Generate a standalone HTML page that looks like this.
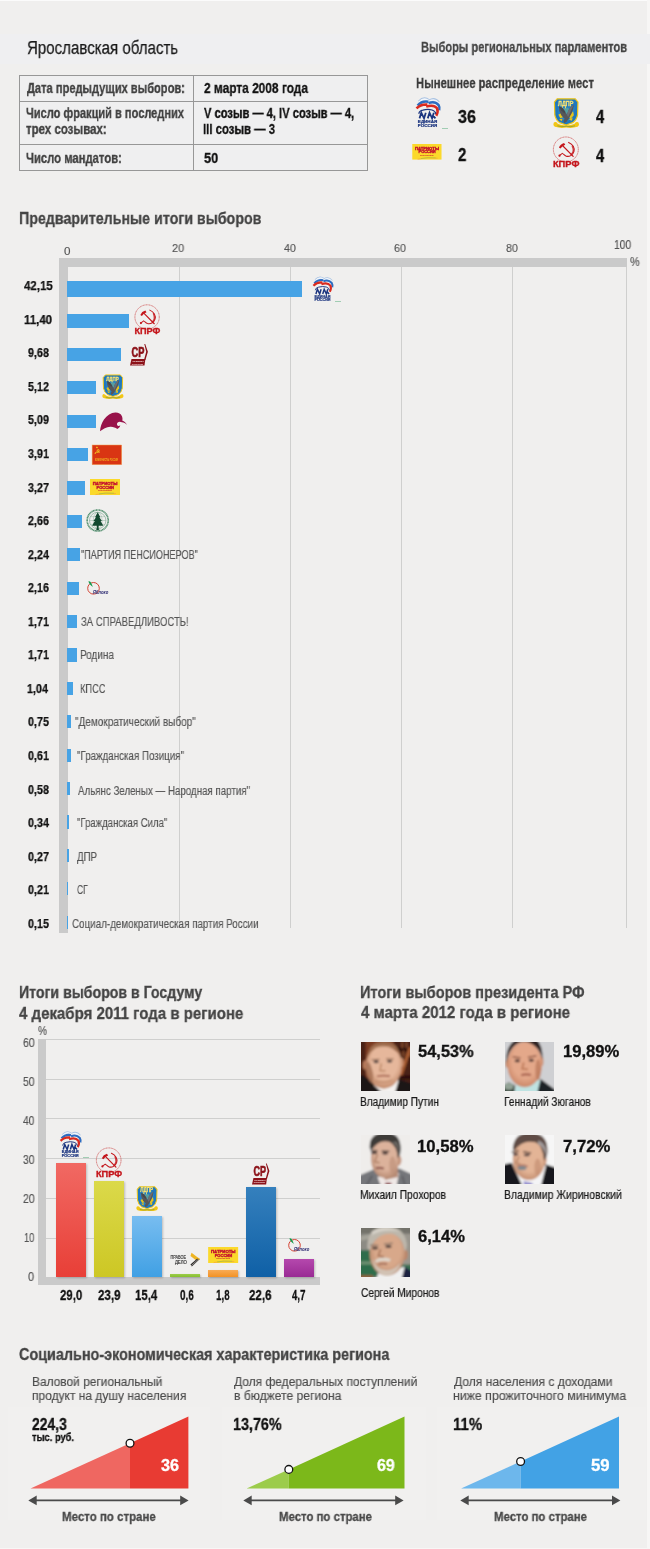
<!DOCTYPE html>
<html lang="ru"><head><meta charset="utf-8"><title>Ярославская область — выборы</title>
<style>
html,body{margin:0;padding:0}
body{width:650px;height:1549px;background:#f0efee;overflow:hidden;font-family:"Liberation Sans",sans-serif}
#pg{position:relative;width:650px;height:1549px;overflow:hidden;background:#f0efee}
.t{position:absolute;white-space:nowrap;line-height:1;transform-origin:0 0;font-weight:400;-webkit-text-stroke:.15px currentColor}
.t.b{font-weight:700;-webkit-text-stroke:.3px currentColor}
.ab{position:absolute;overflow:visible}
svg.ab,.t{will-change:transform}
svg text{font-family:"Liberation Sans",sans-serif}
.band{position:absolute;background:#efeff1}
.tb{position:absolute;border-collapse:collapse;table-layout:fixed;background:#efeff0}
.tb td{border:1px solid #979797;padding:0}
.gl{position:absolute;width:1px;background:#cfcfce}
.glh{position:absolute;height:1px;background:#cfcfce}
.fr{position:absolute;background:#cacaca}
.hb{position:absolute;background:#47a3e5}
.vb{position:absolute;box-shadow:1px 1px 2px rgba(0,0,0,.22)}
.pan{position:absolute;background:rgba(255,255,255,.1)}
.topl{position:absolute;left:0;top:0;width:650px;height:1px;background:#fbfbfb}
</style></head>
<body><div id="pg">
<div class="topl"></div><div class="ab" style="left:647px;top:0;width:3px;height:1549px;background:#f7f6f5"></div><div class="ab" style="left:0;top:1547.5px;width:650px;height:1.5px;background:#f7f6f5"></div>
<div class="band" style="left:0;top:34px;width:650px;height:30px"></div>
<div class="t" style="left:26.82px;top:37px;font-size:18.46px;line-height:21px;color:#1a1a1a;transform:scaleX(0.8171);-webkit-text-stroke:.25px #1a1a1a">Ярославская область</div>
<div class="t b" style="left:420.78px;top:39px;font-size:14.24px;line-height:16px;color:#454545;transform:scaleX(0.7783);">Выборы региональных парламентов</div>
<div class="t b" style="left:415.77px;top:74px;font-size:15.12px;line-height:17px;color:#3a3a3a;transform:scaleX(0.7448);">Нынешнее распределение мест</div>
<table class="tb" style="left:19px;top:75px;width:349px"><tr style="height:26px"><td style="width:173px"></td><td></td></tr><tr style="height:43px"><td></td><td></td></tr><tr style="height:26px"><td></td><td></td></tr></table>
<div class="t b" style="left:26.52px;top:80px;font-size:14.83px;line-height:16px;color:#404040;transform:scaleX(0.7492);">Дата предыдущих выборов:</div>
<div class="t b" style="left:26.02px;top:105px;font-size:14.83px;line-height:16px;color:#404040;transform:scaleX(0.7459);">Число фракций в последних</div>
<div class="t b" style="left:26.28px;top:121px;font-size:14.83px;line-height:16px;color:#404040;transform:scaleX(0.7741);">трех созывах:</div>
<div class="t b" style="left:26.01px;top:150px;font-size:14.83px;line-height:16px;color:#404040;transform:scaleX(0.7607);">Число мандатов:</div>
<div class="t b" style="left:203.61px;top:80px;font-size:14.83px;line-height:16px;color:#111;transform:scaleX(0.8031);">2 марта 2008 года</div>
<div class="t b" style="left:203.94px;top:105px;font-size:14.83px;line-height:16px;color:#111;transform:scaleX(0.7521);">V созыв — 4, IV созыв — 4,</div>
<div class="t b" style="left:203.26px;top:121px;font-size:14.83px;line-height:16px;color:#111;transform:scaleX(0.7666);">III созыв — 3</div>
<div class="t b" style="left:204.02px;top:150px;font-size:14.83px;line-height:16px;color:#111;transform:scaleX(0.8603);">50</div>
<div class="t b" style="left:457.64px;top:107px;font-size:17.88px;line-height:20px;color:#111;transform:scaleX(0.9012);">36</div>
<div class="t b" style="left:457.81px;top:145px;font-size:17.88px;line-height:20px;color:#111;transform:scaleX(0.8418);">2</div>
<div class="t b" style="left:595.78px;top:107px;font-size:17.88px;line-height:20px;color:#111;transform:scaleX(0.8324);">4</div>
<div class="t b" style="left:595.78px;top:146px;font-size:17.88px;line-height:20px;color:#111;transform:scaleX(0.8324);">4</div>
<div class="t b" style="left:19.07px;top:208px;font-size:17.3px;line-height:20px;color:#444;transform:scaleX(0.8233);">Предварительные итоги выборов</div>
<div class="t b" style="left:18.78px;top:982px;font-size:17.15px;line-height:20px;color:#444;transform:scaleX(0.8243);">Итоги выборов в Госдуму</div>
<div class="t b" style="left:19.47px;top:1003px;font-size:17.15px;line-height:20px;color:#444;transform:scaleX(0.8760);">4 декабря 2011 года в регионе</div>
<div class="t b" style="left:359.85px;top:982px;font-size:17.15px;line-height:20px;color:#444;transform:scaleX(0.8485);">Итоги выборов президента РФ</div>
<div class="t b" style="left:360.57px;top:1002px;font-size:17.15px;line-height:20px;color:#444;transform:scaleX(0.8790);">4 марта 2012 года в регионе</div>
<div class="t b" style="left:19.12px;top:1345px;font-size:16.86px;line-height:19px;color:#444;transform:scaleX(0.8536);">Социально-экономическая характеристика региона</div>
<div class="gl" style="left:179px;top:267px;height:661px"></div>
<div class="gl" style="left:290px;top:267px;height:661px"></div>
<div class="gl" style="left:401px;top:267px;height:661px"></div>
<div class="gl" style="left:512px;top:267px;height:661px"></div>
<div class="gl" style="left:626px;top:267px;height:661px"></div>
<div class="fr" style="left:59px;top:258px;width:567.6px;height:9px"></div>
<div class="fr" style="left:59px;top:258px;width:8.7px;height:675px"></div>
<div class="t" style="left:64.16px;top:244px;font-size:11.63px;line-height:13px;color:#555;transform:scaleX(1.0032);">0</div>
<div class="t" style="left:172.25px;top:241px;font-size:11.63px;line-height:13px;color:#555;transform:scaleX(0.9418);">20</div>
<div class="t" style="left:283.96px;top:241px;font-size:11.63px;line-height:13px;color:#555;transform:scaleX(0.9172);">40</div>
<div class="t" style="left:394.46px;top:241px;font-size:11.63px;line-height:13px;color:#555;transform:scaleX(0.9250);">60</div>
<div class="t" style="left:505.85px;top:241px;font-size:11.63px;line-height:13px;color:#555;transform:scaleX(0.9183);">80</div>
<div class="t" style="left:614.23px;top:238px;font-size:11.92px;line-height:14px;color:#555;transform:scaleX(0.8632);">100</div>
<div class="t" style="left:629.62px;top:255px;font-size:11.92px;line-height:14px;color:#555;transform:scaleX(0.9208);">%</div>
<div class="hb" style="left:67px;top:281.0px;width:235.0px;height:16px"></div>
<div class="t b" style="left:23.88px;top:279px;font-size:12.35px;line-height:14px;color:#111;transform:scaleX(0.9304);-webkit-text-stroke:.25px #111">42,15</div>
<div class="hb" style="left:67px;top:314.4px;width:62.0px;height:13.2px"></div>
<div class="t b" style="left:24.01px;top:313px;font-size:12.35px;line-height:14px;color:#111;transform:scaleX(0.9304);-webkit-text-stroke:.25px #111">11,40</div>
<div class="hb" style="left:67px;top:347.8px;width:53.5px;height:13.2px"></div>
<div class="t b" style="left:27.72px;top:346px;font-size:12.35px;line-height:14px;color:#111;transform:scaleX(0.8703);-webkit-text-stroke:.25px #111">9,68</div>
<div class="hb" style="left:67px;top:381.2px;width:29.0px;height:13.2px"></div>
<div class="t b" style="left:27.79px;top:380px;font-size:12.35px;line-height:14px;color:#111;transform:scaleX(0.8703);-webkit-text-stroke:.25px #111">5,12</div>
<div class="hb" style="left:67px;top:414.6px;width:29.0px;height:13.2px"></div>
<div class="t b" style="left:27.77px;top:413px;font-size:12.35px;line-height:14px;color:#111;transform:scaleX(0.8703);-webkit-text-stroke:.25px #111">5,09</div>
<div class="hb" style="left:67px;top:448.0px;width:21.0px;height:13.2px"></div>
<div class="t b" style="left:27.76px;top:447px;font-size:12.35px;line-height:14px;color:#111;transform:scaleX(0.8703);-webkit-text-stroke:.25px #111">3,91</div>
<div class="hb" style="left:67px;top:481.4px;width:18.0px;height:13.2px"></div>
<div class="t b" style="left:27.85px;top:481px;font-size:12.35px;line-height:14px;color:#111;transform:scaleX(0.8703);-webkit-text-stroke:.25px #111">3,27</div>
<div class="hb" style="left:67px;top:514.8px;width:15.0px;height:13.2px"></div>
<div class="t b" style="left:27.75px;top:514px;font-size:12.35px;line-height:14px;color:#111;transform:scaleX(0.8703);-webkit-text-stroke:.25px #111">2,66</div>
<div class="hb" style="left:67px;top:548.2px;width:13.0px;height:13.2px"></div>
<div class="t b" style="left:27.59px;top:548px;font-size:12.35px;line-height:14px;color:#111;transform:scaleX(0.8703);-webkit-text-stroke:.25px #111">2,24</div>
<div class="t" style="left:81.31px;top:548px;font-size:12.21px;line-height:14px;color:#555;transform:scaleX(0.7448);">"ПАРТИЯ ПЕНСИОНЕРОВ"</div>
<div class="hb" style="left:67px;top:581.6px;width:11.7px;height:13.2px"></div>
<div class="t b" style="left:27.75px;top:581px;font-size:12.35px;line-height:14px;color:#111;transform:scaleX(0.8703);-webkit-text-stroke:.25px #111">2,16</div>
<div class="hb" style="left:67px;top:615.0px;width:10.0px;height:13.2px"></div>
<div class="t b" style="left:27.55px;top:615px;font-size:12.35px;line-height:14px;color:#111;transform:scaleX(0.8703);-webkit-text-stroke:.25px #111">1,71</div>
<div class="t" style="left:81.39px;top:615px;font-size:12.21px;line-height:14px;color:#555;transform:scaleX(0.7820);">ЗА СПРАВЕДЛИВОСТЬ!</div>
<div class="hb" style="left:67px;top:648.4px;width:10.0px;height:13.2px"></div>
<div class="t b" style="left:27.55px;top:648px;font-size:12.35px;line-height:14px;color:#111;transform:scaleX(0.8703);-webkit-text-stroke:.25px #111">1,71</div>
<div class="t" style="left:80.00px;top:648px;font-size:12.21px;line-height:14px;color:#555;transform:scaleX(0.8165);">Родина</div>
<div class="hb" style="left:67px;top:681.8px;width:6.3px;height:13.2px"></div>
<div class="t b" style="left:27.42px;top:682px;font-size:12.35px;line-height:14px;color:#111;transform:scaleX(0.8703);-webkit-text-stroke:.25px #111">1,04</div>
<div class="t" style="left:80.06px;top:682px;font-size:12.21px;line-height:14px;color:#555;transform:scaleX(0.7606);">КПСС</div>
<div class="hb" style="left:67px;top:715.2px;width:4.3px;height:13.2px"></div>
<div class="t b" style="left:27.68px;top:715px;font-size:12.35px;line-height:14px;color:#111;transform:scaleX(0.8703);-webkit-text-stroke:.25px #111">0,75</div>
<div class="t" style="left:74.77px;top:715px;font-size:12.21px;line-height:14px;color:#555;transform:scaleX(0.8195);">"Демократический выбор"</div>
<div class="hb" style="left:67px;top:748.6px;width:3.5px;height:13.2px"></div>
<div class="t b" style="left:27.68px;top:749px;font-size:12.35px;line-height:14px;color:#111;transform:scaleX(0.8703);-webkit-text-stroke:.25px #111">0,61</div>
<div class="t" style="left:77.08px;top:749px;font-size:12.21px;line-height:14px;color:#555;transform:scaleX(0.8000);">"Гражданская Позиция"</div>
<div class="hb" style="left:67px;top:782.0px;width:3.3px;height:13.2px"></div>
<div class="t b" style="left:27.69px;top:783px;font-size:12.35px;line-height:14px;color:#111;transform:scaleX(0.8703);-webkit-text-stroke:.25px #111">0,58</div>
<div class="t" style="left:77.50px;top:784px;font-size:12.21px;line-height:14px;color:#555;transform:scaleX(0.7981);">Альянс Зеленых — Народная партия"</div>
<div class="hb" style="left:67px;top:815.4px;width:2.0px;height:13.2px"></div>
<div class="t b" style="left:27.56px;top:816px;font-size:12.35px;line-height:14px;color:#111;transform:scaleX(0.8703);-webkit-text-stroke:.25px #111">0,34</div>
<div class="t" style="left:77.09px;top:816px;font-size:12.21px;line-height:14px;color:#555;transform:scaleX(0.7848);">"Гражданская Сила"</div>
<div class="hb" style="left:67px;top:848.8px;width:1.6px;height:13.2px"></div>
<div class="t b" style="left:27.77px;top:850px;font-size:12.35px;line-height:14px;color:#111;transform:scaleX(0.8703);-webkit-text-stroke:.25px #111">0,27</div>
<div class="t" style="left:77.45px;top:850px;font-size:12.21px;line-height:14px;color:#555;transform:scaleX(0.7965);">ДПР</div>
<div class="hb" style="left:67px;top:882.2px;width:1.3px;height:13.2px"></div>
<div class="t b" style="left:27.68px;top:883px;font-size:12.35px;line-height:14px;color:#111;transform:scaleX(0.8703);-webkit-text-stroke:.25px #111">0,21</div>
<div class="t" style="left:77.07px;top:883px;font-size:12.21px;line-height:14px;color:#555;transform:scaleX(0.6976);">СГ</div>
<div class="hb" style="left:67px;top:915.6px;width:1.3px;height:13.2px"></div>
<div class="t b" style="left:27.68px;top:917px;font-size:12.35px;line-height:14px;color:#111;transform:scaleX(0.8703);-webkit-text-stroke:.25px #111">0,15</div>
<div class="t" style="left:72.41px;top:917px;font-size:12.21px;line-height:14px;color:#555;transform:scaleX(0.8052);">Социал-демократическая партия России</div>
<div class="glh" style="left:46px;top:1238px;width:274px"></div>
<div class="glh" style="left:46px;top:1198px;width:274px"></div>
<div class="glh" style="left:46px;top:1158px;width:274px"></div>
<div class="glh" style="left:46px;top:1118px;width:274px"></div>
<div class="glh" style="left:46px;top:1079px;width:274px"></div>
<div class="glh" style="left:46px;top:1039px;width:274px"></div>
<div class="fr" style="left:38px;top:1038.5px;width:8.2px;height:246.5px"></div>
<div class="fr" style="left:38px;top:1277px;width:282px;height:8px"></div>
<div class="t" style="left:28.39px;top:1270px;font-size:11.92px;line-height:14px;color:#555;transform:scaleX(0.9088);">0</div>
<div class="t" style="left:23.89px;top:1231px;font-size:11.92px;line-height:14px;color:#555;transform:scaleX(0.7906);">10</div>
<div class="t" style="left:22.67px;top:1192px;font-size:11.92px;line-height:14px;color:#555;transform:scaleX(0.8861);">20</div>
<div class="t" style="left:22.81px;top:1153px;font-size:11.92px;line-height:14px;color:#555;transform:scaleX(0.8754);">30</div>
<div class="t" style="left:22.97px;top:1114px;font-size:11.92px;line-height:14px;color:#555;transform:scaleX(0.8629);">40</div>
<div class="t" style="left:22.78px;top:1075px;font-size:11.92px;line-height:14px;color:#555;transform:scaleX(0.8775);">50</div>
<div class="t" style="left:22.67px;top:1036px;font-size:11.92px;line-height:14px;color:#555;transform:scaleX(0.8861);">60</div>
<div class="t" style="left:37.95px;top:1024px;font-size:12.35px;line-height:14px;color:#555;transform:scaleX(0.8196);">%</div>
<div class="vb" style="left:56px;top:1162.7px;width:30px;height:114.3px;background:linear-gradient(#f16963,#e83f37)"></div>
<div class="t b" style="left:59.83px;top:1286px;font-size:14.97px;line-height:17px;color:#111;transform:scaleX(0.7660);">29,0</div>
<div class="vb" style="left:94px;top:1181.0px;width:30px;height:96.0px;background:linear-gradient(#dbd94a,#cdc724)"></div>
<div class="t b" style="left:97.72px;top:1286px;font-size:14.97px;line-height:17px;color:#111;transform:scaleX(0.7756);">23,9</div>
<div class="vb" style="left:132px;top:1215.8px;width:30px;height:61.2px;background:linear-gradient(#78bdf0,#40a0e4)"></div>
<div class="t b" style="left:135.48px;top:1286px;font-size:14.97px;line-height:17px;color:#111;transform:scaleX(0.7675);">15,4</div>
<div class="vb" style="left:170px;top:1274.2px;width:30px;height:2.8px;background:linear-gradient(#9ccc4a,#86bf30)"></div>
<div class="t b" style="left:179.53px;top:1286px;font-size:14.97px;line-height:17px;color:#111;transform:scaleX(0.6629);">0,6</div>
<div class="vb" style="left:208px;top:1269.8px;width:30px;height:7.2px;background:linear-gradient(#f8ab55,#f39224)"></div>
<div class="t b" style="left:216.08px;top:1286px;font-size:14.97px;line-height:17px;color:#111;transform:scaleX(0.6577);">1,8</div>
<div class="vb" style="left:246px;top:1187.4px;width:30px;height:89.6px;background:linear-gradient(#3580bd,#0f60a6)"></div>
<div class="t b" style="left:249.02px;top:1286px;font-size:14.97px;line-height:17px;color:#111;transform:scaleX(0.7746);">22,6</div>
<div class="vb" style="left:284px;top:1259.0px;width:30px;height:18.0px;background:linear-gradient(#b548ad,#992b94)"></div>
<div class="t b" style="left:292.36px;top:1286px;font-size:14.97px;line-height:17px;color:#111;transform:scaleX(0.6417);">4,7</div>
<div class="t b" style="left:418.01px;top:1042px;font-size:16.5px;line-height:18px;color:#111;transform:scaleX(0.9951);">54,53%</div>
<div class="t" style="left:360.39px;top:1095px;font-size:12.06px;line-height:14px;color:#1a1a1a;transform:scaleX(0.8378);-webkit-text-stroke:.22px #1a1a1a">Владимир Путин</div>
<div class="t b" style="left:562.76px;top:1042px;font-size:16.5px;line-height:18px;color:#111;transform:scaleX(1.0067);">19,89%</div>
<div class="t" style="left:504.49px;top:1095px;font-size:12.06px;line-height:14px;color:#1a1a1a;transform:scaleX(0.8407);-webkit-text-stroke:.22px #1a1a1a">Геннадий Зюганов</div>
<div class="t b" style="left:417.46px;top:1137px;font-size:16.5px;line-height:18px;color:#111;transform:scaleX(1.0104);">10,58%</div>
<div class="t" style="left:360.38px;top:1188px;font-size:12.06px;line-height:14px;color:#1a1a1a;transform:scaleX(0.8541);-webkit-text-stroke:.22px #1a1a1a">Михаил Прохоров</div>
<div class="t b" style="left:563.09px;top:1137px;font-size:16.5px;line-height:18px;color:#111;transform:scaleX(1.0130);">7,72%</div>
<div class="t" style="left:504.47px;top:1188px;font-size:12.06px;line-height:14px;color:#1a1a1a;transform:scaleX(0.8649);-webkit-text-stroke:.22px #1a1a1a">Владимир Жириновский</div>
<div class="t b" style="left:417.92px;top:1227px;font-size:16.5px;line-height:18px;color:#111;transform:scaleX(1.0037);">6,14%</div>
<div class="t" style="left:360.69px;top:1286px;font-size:12.06px;line-height:14px;color:#1a1a1a;transform:scaleX(0.8431);-webkit-text-stroke:.22px #1a1a1a">Сергей Миронов</div>
<div class="pan" style="left:8px;top:1407px;width:202px;height:113px"></div>
<div class="pan" style="left:222px;top:1407px;width:204px;height:113px"></div>
<div class="pan" style="left:437px;top:1407px;width:209px;height:113px"></div>
<div class="t" style="left:32.34px;top:1375px;font-size:12.65px;line-height:14px;color:#4c4c4c;transform:scaleX(0.9437);">Валовой региональный</div>
<div class="t" style="left:32.49px;top:1389px;font-size:12.65px;line-height:14px;color:#4c4c4c;transform:scaleX(0.9483);">продукт на душу населения</div>
<div class="t" style="left:234.44px;top:1375px;font-size:12.65px;line-height:14px;color:#4c4c4c;transform:scaleX(0.9476);">Доля федеральных поступлений</div>
<div class="t" style="left:233.68px;top:1389px;font-size:12.65px;line-height:14px;color:#4c4c4c;transform:scaleX(0.9585);">в бюджете региона</div>
<div class="t" style="left:453.74px;top:1375px;font-size:12.65px;line-height:14px;color:#4c4c4c;transform:scaleX(0.9540);">Доля населения с доходами</div>
<div class="t" style="left:452.97px;top:1389px;font-size:12.65px;line-height:14px;color:#4c4c4c;transform:scaleX(0.9740);">ниже прожиточного минимума</div>
<div class="t b" style="left:32.15px;top:1416px;font-size:15.77px;line-height:17px;color:#111;transform:scaleX(0.8819);">224,3</div>
<div class="t b" style="left:32.34px;top:1431px;font-size:11.05px;line-height:12px;color:#111;transform:scaleX(0.8434);">тыс. руб.</div>
<div class="t b" style="left:232.90px;top:1416px;font-size:15.99px;line-height:17px;color:#111;transform:scaleX(0.8969);">13,76%</div>
<div class="t b" style="left:452.87px;top:1416px;font-size:15.99px;line-height:17px;color:#111;transform:scaleX(0.9347);">11%</div>
<svg class="ab" style="left:0;top:1400px" width="650" height="120" viewBox="0 1400 650 120"><polygon points="30.5,1488.6 130,1443.2 130,1488.6" fill="#ef6761"/><polygon points="130,1488.6 130,1443.2 188.4,1416.6 188.4,1488.6" fill="#e83b33"/><circle cx="130" cy="1443.2" r="3.9" fill="#fff" stroke="#111" stroke-width="1.3"/><path d="M34.3,1500.4H182.6" stroke="#4a4a4a" stroke-width="1.6"/><polygon points="28.3,1500.4 36.7,1495.5 36.7,1505.3000000000002" fill="#4a4a4a"/><polygon points="188.6,1500.4 180.2,1495.5 180.2,1505.3000000000002" fill="#4a4a4a"/></svg>
<div class="t b" style="left:160.94px;top:1456px;font-size:16.28px;line-height:18px;color:#fff;transform:scaleX(0.9956);">36</div>
<div class="t b" style="left:62.15px;top:1509px;font-size:13.37px;line-height:15px;color:#4a4a4a;transform:scaleX(0.8606);">Место по стране</div>
<svg class="ab" style="left:0;top:1400px" width="650" height="120" viewBox="0 1400 650 120"><polygon points="246.6,1488.6 288.8,1469.4 288.8,1488.6" fill="#9ccc4b"/><polygon points="288.8,1488.6 288.8,1469.4 404.5,1416.6 404.5,1488.6" fill="#7cb81a"/><circle cx="288.8" cy="1469.4" r="3.9" fill="#fff" stroke="#111" stroke-width="1.3"/><path d="M249.3,1500.4H397.6" stroke="#4a4a4a" stroke-width="1.6"/><polygon points="243.3,1500.4 251.70000000000002,1495.5 251.70000000000002,1505.3000000000002" fill="#4a4a4a"/><polygon points="403.6,1500.4 395.20000000000005,1495.5 395.20000000000005,1505.3000000000002" fill="#4a4a4a"/></svg>
<div class="t b" style="left:377.14px;top:1456px;font-size:16.28px;line-height:18px;color:#fff;transform:scaleX(0.9804);">69</div>
<div class="t b" style="left:278.56px;top:1509px;font-size:13.37px;line-height:15px;color:#4a4a4a;transform:scaleX(0.8532);">Место по стране</div>
<svg class="ab" style="left:0;top:1400px" width="650" height="120" viewBox="0 1400 650 120"><polygon points="461.1,1488.6 520.6,1461.5 520.6,1488.6" fill="#6db7ec"/><polygon points="520.6,1488.6 520.6,1461.5 619,1416.6 619,1488.6" fill="#42a2e5"/><circle cx="520.6" cy="1461.5" r="3.9" fill="#fff" stroke="#111" stroke-width="1.3"/><path d="M466.3,1500.4H614.4" stroke="#4a4a4a" stroke-width="1.6"/><polygon points="460.3,1500.4 468.7,1495.5 468.7,1505.3000000000002" fill="#4a4a4a"/><polygon points="620.4,1500.4 612.0,1495.5 612.0,1505.3000000000002" fill="#4a4a4a"/></svg>
<div class="t b" style="left:591.30px;top:1456px;font-size:16.28px;line-height:18px;color:#fff;transform:scaleX(1.0286);">59</div>
<div class="t b" style="left:493.56px;top:1509px;font-size:13.37px;line-height:15px;color:#4a4a4a;transform:scaleX(0.8532);">Место по стране</div>
<svg class="ab" style="left:415.5px;top:97.4px" width="24.5" height="30.6" viewBox="0 0 25 31"><path d="M3,4.6 Q8,-0.8 13,3.2 M13.5,3.7 Q19,0.2 23.3,5.6" fill="none" stroke="#a9c2e2" stroke-width="2.5"/><path d="M3.2,5 Q8,0 12.9,3.7 M13.6,4.2 Q19,1 23,6" fill="none" stroke="#f2f6fb" stroke-width="1.7"/><path d="M1.6,8.6 Q6,3.6 12.6,4.8 M12.8,6.2 Q19,3.6 23.1,8.2 Q24.5,10.6 23.7,13.4" fill="none" stroke="#2d6cc0" stroke-width="2.5"/><path d="M0.5,11.6 Q5,7 11.6,7.6 M10.4,9.7 Q18,7.2 21.5,11.4 Q23,15 20.6,19" fill="none" stroke="#da2a1e" stroke-width="2.6"/><g transform="translate(0,.7)"><path d="M2.9,16.4 Q3.2,13.2 7,12.6 Q12,11.2 16.4,12.5 Q19.8,13.6 20.2,16.4" fill="none" stroke="#1b347f" stroke-width="1.15"/><path d="M3.6,21 L5.4,15.2 L8.2,21 L10,15.2 M12,21 L13.8,15.2 L16.4,21 L18.2,15.2 M17.2,18 L19.8,21" fill="none" stroke="#1b347f" stroke-width="1.8" stroke-linejoin="miter"/></g><text x="1.9" y="26.4" font-size="4.2" font-weight="bold" textLength="19.7" lengthAdjust="spacingAndGlyphs" fill="#1b347f" stroke="#1b347f" stroke-width=".22">ЕДИНАЯ</text><text x="1.9" y="30.8" font-size="4.2" font-weight="bold" textLength="19.7" lengthAdjust="spacingAndGlyphs" fill="#1b347f" stroke="#1b347f" stroke-width=".22">РОССИЯ</text></svg><div class="ab" style="left:441.5px;top:127.7px;width:6px;height:1px;background:#7fbf9a;opacity:.7"></div>
<svg class="ab" style="left:412.4px;top:143.5px" width="29.8" height="15.6" viewBox="0 0 30 16"><rect width="30" height="16" fill="#fbd92b"/><text x="2.8" y="5.7" font-size="4" font-weight="bold" textLength="24.6" lengthAdjust="spacingAndGlyphs" fill="#c4122e" stroke="#c4122e" stroke-width=".4">ПАТРИОТЫ</text><text x="6.5" y="9.7" font-size="4.1" font-weight="bold" textLength="17.5" lengthAdjust="spacingAndGlyphs" fill="#c4122e" stroke="#c4122e" stroke-width=".4">РОССИИ</text><text x="8" y="12.1" font-size="1.8" font-weight="bold" textLength="13.8" lengthAdjust="spacingAndGlyphs" fill="#c4122e">политическая партия</text><path d="M5.5,15.6 Q14,13.2 26,14.6" fill="none" stroke="#f6a23a" stroke-width=".9" opacity=".75"/><path d="M9,14.9 Q16,13.6 24,14.2" fill="none" stroke="#9fc63a" stroke-width=".8" opacity=".85"/></svg>
<svg class="ab" style="left:553px;top:98px" width="26.4" height="30" viewBox="0 0 27.6 31"><path d="M4.3,0.7 L23.3,0.7 L26.1,4.1 L25.7,17.4 Q24.8,22.6 20.6,25.6 L13.8,28 L7,25.6 Q2.8,22.6 1.9,17.4 L1.5,4.1Z" fill="#1f78be" stroke="#f2c615" stroke-width="1.25" stroke-linejoin="round"/><path d="M5,9.5 L22.6,9.5 L22,17 Q20,22 13.8,24.6 Q7.6,22 5.6,17Z" fill="#2b8bcf" opacity=".5"/><ellipse cx="13.4" cy="13.2" rx="3.8" ry="3.4" fill="#9cc56a" opacity=".4"/><text x="5.3" y="7.9" font-size="7.8" font-weight="bold" textLength="16" lengthAdjust="spacingAndGlyphs" fill="#f6e072" stroke="#f6e072" stroke-width=".35">ЛДПР</text><path d="M16.5,19.4 L21,13.6 L21.8,17.8 L18.2,21.8Z M5.6,17.2 L8.6,15.6 L10.4,20 L7.6,21Z M16.6,22.6 L20.6,20.2 L19.8,23.6 Z M6.4,22 L10,21.4 L9,24Z" fill="#e6c31c"/><path d="M6.2,8.6 L9.8,10 L12.8,14.2 L14.6,17.2 L16,13 L18.8,9 L21.6,6.8 L21.2,11 L19.2,16.4 L16.6,21.2 L14.2,24.6 L11.6,26.2 L11,23.6 L12.2,21.6 L8.8,18.2 L6.6,13.4Z" fill="#55575a"/><path d="M14.6,17.2 L16,13 L18.8,9 L21.6,6.8 L18.4,14 L15.8,19.6Z" fill="#6d6f73"/><path d="M6.2,8.6 L9.8,10 L12.8,14.2 L12,16 L8.4,12.6Z" fill="#47494c"/><path d="M0.4,27.2 Q0.6,24.6 2.8,25 Q4.4,25.4 5,26.8 Q9.4,29 13.8,28 Q18.2,29 22.6,26.8 Q23.2,25.4 24.8,25 Q27,24.6 27.2,27.2 Q27.2,29 25.6,30 Q19,31.8 13.8,30.6 Q8.6,31.8 2,30 Q0.4,29 0.4,27.2Z" fill="#f2c615"/><path d="M4.6,28.9 Q9,30.3 13.8,29.4 Q18.6,30.3 23,28.9" fill="none" stroke="#2f7a5a" stroke-width=".6" opacity=".8"/></svg>
<svg class="ab" style="left:552.3px;top:136.5px" width="27.7" height="30" viewBox="0 0 28 30"><circle cx="14" cy="12.4" r="12.6" fill="none" stroke="#c93a3a" stroke-width=".95" stroke-dasharray="1.2 .45" opacity=".7"/><path d="M16.8,5.3 C21,7 23.4,11 22.2,14.6 C21,18.4 17.4,20 14.4,19.2 C12.6,18.6 11.6,17 10.4,16.4 C9.2,17.2 8.4,18 7.4,18.8" fill="none" stroke="#c4161c" stroke-width="1.05" stroke-linecap="round"/><path d="M20.6,9 C22,12 21.8,15.4 19.4,17.6" fill="none" stroke="#c4161c" stroke-width="1.5" stroke-linecap="round" opacity=".8"/><circle cx="7.6" cy="18.7" r="1.1" fill="#c4161c"/><path d="M10.6,8.4 L21.4,19.4" stroke="#c4161c" stroke-width="1.2" stroke-linecap="round"/><path d="M7,10.4 Q8.4,6.8 12.2,5.8 L13.4,7.6 Q10.4,8.6 8.6,11.4Z" fill="#c4161c"/><text x="0.9" y="30" font-size="9.9" font-weight="bold" textLength="26.8" lengthAdjust="spacingAndGlyphs" fill="#c4161c" stroke="#c4161c" stroke-width=".35">КПРФ</text></svg>
<svg class="ab" style="left:312.8px;top:275.5px" width="20.3" height="25.8" viewBox="0 0 25 31"><path d="M3,4.6 Q8,-0.8 13,3.2 M13.5,3.7 Q19,0.2 23.3,5.6" fill="none" stroke="#a9c2e2" stroke-width="2.5"/><path d="M3.2,5 Q8,0 12.9,3.7 M13.6,4.2 Q19,1 23,6" fill="none" stroke="#f2f6fb" stroke-width="1.7"/><path d="M1.6,8.6 Q6,3.6 12.6,4.8 M12.8,6.2 Q19,3.6 23.1,8.2 Q24.5,10.6 23.7,13.4" fill="none" stroke="#2d6cc0" stroke-width="2.5"/><path d="M0.5,11.6 Q5,7 11.6,7.6 M10.4,9.7 Q18,7.2 21.5,11.4 Q23,15 20.6,19" fill="none" stroke="#da2a1e" stroke-width="2.6"/><g transform="translate(0,.7)"><path d="M2.9,16.4 Q3.2,13.2 7,12.6 Q12,11.2 16.4,12.5 Q19.8,13.6 20.2,16.4" fill="none" stroke="#1b347f" stroke-width="1.15"/><path d="M3.6,21 L5.4,15.2 L8.2,21 L10,15.2 M12,21 L13.8,15.2 L16.4,21 L18.2,15.2 M17.2,18 L19.8,21" fill="none" stroke="#1b347f" stroke-width="1.8" stroke-linejoin="miter"/></g><text x="1.9" y="26.4" font-size="4.2" font-weight="bold" textLength="19.7" lengthAdjust="spacingAndGlyphs" fill="#1b347f" stroke="#1b347f" stroke-width=".22">ЕДИНАЯ</text><text x="1.9" y="30.8" font-size="4.2" font-weight="bold" textLength="19.7" lengthAdjust="spacingAndGlyphs" fill="#1b347f" stroke="#1b347f" stroke-width=".22">РОССИЯ</text></svg><div class="ab" style="left:334.6px;top:301.0px;width:6px;height:1px;background:#7fbf9a;opacity:.7"></div>
<svg class="ab" style="left:133.3px;top:305px" width="28.2" height="29" viewBox="0 0 28 30"><circle cx="14" cy="12.4" r="12.6" fill="none" stroke="#c93a3a" stroke-width=".95" stroke-dasharray="1.2 .45" opacity=".7"/><path d="M16.8,5.3 C21,7 23.4,11 22.2,14.6 C21,18.4 17.4,20 14.4,19.2 C12.6,18.6 11.6,17 10.4,16.4 C9.2,17.2 8.4,18 7.4,18.8" fill="none" stroke="#c4161c" stroke-width="1.05" stroke-linecap="round"/><path d="M20.6,9 C22,12 21.8,15.4 19.4,17.6" fill="none" stroke="#c4161c" stroke-width="1.5" stroke-linecap="round" opacity=".8"/><circle cx="7.6" cy="18.7" r="1.1" fill="#c4161c"/><path d="M10.6,8.4 L21.4,19.4" stroke="#c4161c" stroke-width="1.2" stroke-linecap="round"/><path d="M7,10.4 Q8.4,6.8 12.2,5.8 L13.4,7.6 Q10.4,8.6 8.6,11.4Z" fill="#c4161c"/><text x="0.9" y="30" font-size="9.9" font-weight="bold" textLength="26.8" lengthAdjust="spacingAndGlyphs" fill="#c4161c" stroke="#c4161c" stroke-width=".35">КПРФ</text></svg>
<svg class="ab" style="left:129.5px;top:343.5px" width="18" height="22" viewBox="0 0 18 22"><text x="1.5" y="13.3" font-size="14.8" font-weight="bold" textLength="12.9" lengthAdjust="spacingAndGlyphs" fill="#8c1219" stroke="#8c1219" stroke-width=".7">СР</text><path d="M14.3,0 L15.2,0 L17.9,7.8 L15.4,16 L14,16 L16.2,7.8Z" fill="#8c1219"/><path d="M1.5,15 L15.4,15 L14.5,21.6 L0,21.6Z" fill="#8c1219"/><text x="2.4" y="17.8" font-size="2" font-weight="bold" textLength="11.4" lengthAdjust="spacingAndGlyphs" fill="#fbeaea">СПРАВЕДЛИВАЯ</text><text x="1.8" y="20.6" font-size="2" font-weight="bold" textLength="11.4" lengthAdjust="spacingAndGlyphs" fill="#fbeaea">РОССИЯ</text></svg>
<svg class="ab" style="left:102.2px;top:373.9px" width="21.8" height="25.3" viewBox="0 0 27.6 31"><path d="M4.3,0.7 L23.3,0.7 L26.1,4.1 L25.7,17.4 Q24.8,22.6 20.6,25.6 L13.8,28 L7,25.6 Q2.8,22.6 1.9,17.4 L1.5,4.1Z" fill="#1f78be" stroke="#f2c615" stroke-width="1.25" stroke-linejoin="round"/><path d="M5,9.5 L22.6,9.5 L22,17 Q20,22 13.8,24.6 Q7.6,22 5.6,17Z" fill="#2b8bcf" opacity=".5"/><ellipse cx="13.4" cy="13.2" rx="3.8" ry="3.4" fill="#9cc56a" opacity=".4"/><text x="5.3" y="7.9" font-size="7.8" font-weight="bold" textLength="16" lengthAdjust="spacingAndGlyphs" fill="#f6e072" stroke="#f6e072" stroke-width=".35">ЛДПР</text><path d="M16.5,19.4 L21,13.6 L21.8,17.8 L18.2,21.8Z M5.6,17.2 L8.6,15.6 L10.4,20 L7.6,21Z M16.6,22.6 L20.6,20.2 L19.8,23.6 Z M6.4,22 L10,21.4 L9,24Z" fill="#e6c31c"/><path d="M6.2,8.6 L9.8,10 L12.8,14.2 L14.6,17.2 L16,13 L18.8,9 L21.6,6.8 L21.2,11 L19.2,16.4 L16.6,21.2 L14.2,24.6 L11.6,26.2 L11,23.6 L12.2,21.6 L8.8,18.2 L6.6,13.4Z" fill="#55575a"/><path d="M14.6,17.2 L16,13 L18.8,9 L21.6,6.8 L18.4,14 L15.8,19.6Z" fill="#6d6f73"/><path d="M6.2,8.6 L9.8,10 L12.8,14.2 L12,16 L8.4,12.6Z" fill="#47494c"/><path d="M0.4,27.2 Q0.6,24.6 2.8,25 Q4.4,25.4 5,26.8 Q9.4,29 13.8,28 Q18.2,29 22.6,26.8 Q23.2,25.4 24.8,25 Q27,24.6 27.2,27.2 Q27.2,29 25.6,30 Q19,31.8 13.8,30.6 Q8.6,31.8 2,30 Q0.4,29 0.4,27.2Z" fill="#f2c615"/><path d="M4.6,28.9 Q9,30.3 13.8,29.4 Q18.6,30.3 23,28.9" fill="none" stroke="#2f7a5a" stroke-width=".6" opacity=".8"/></svg>
<svg class="ab" style="left:100px;top:411.8px" width="27.4" height="19.7" viewBox="0 0 27.6 19.8"><path d="M0,19.4 C0.4,15 1.6,11 4,7.6 C7,3.4 11,0.8 15.5,0.6 C18.4,0.5 21,1.6 22.2,4.4 C22.8,6 22.8,7.4 22.4,8.6 C24.6,9.4 26.2,10.8 27.2,13 C25.6,11.4 24,10.6 22,10.4 C20.6,9.4 18.6,9.6 17.6,10.8 C16.8,11.8 17,13.2 18,13.8 C18.8,14.2 19.8,14 20.4,13.4 C20.2,15 19,16.4 17.4,17 C15.6,15.6 13,14.6 10.4,14.8 C6.4,15.2 3,17 0,19.4Z" fill="#98124a"/></svg>
<svg class="ab" style="left:92.3px;top:444.8px" width="29.8" height="19.7" viewBox="0 0 30 20"><rect width="30" height="20" fill="#d93513" stroke="#f0a050" stroke-width=".5"/><text x="2.2" y="8.9" font-family="DejaVu Sans,sans-serif" font-size="7.4" fill="#f8d824">☭</text><path d="M4.9,1.2 l.35,.75 .8,.08 -.6,.55 .18,.8 -.73,-.42 -.73,.42 .18,-.8 -.6,-.55 .8,-.08z" fill="#f8d824"/><text x="2.8" y="16.4" font-size="2.8" font-weight="bold" textLength="23.4" lengthAdjust="spacingAndGlyphs" fill="#f0b820">КОММУНИСТЫ РОССИИ</text></svg>
<svg class="ab" style="left:89.8px;top:479px" width="30" height="16" viewBox="0 0 30 16"><rect width="30" height="16" fill="#fbd92b"/><text x="2.8" y="5.7" font-size="4" font-weight="bold" textLength="24.6" lengthAdjust="spacingAndGlyphs" fill="#c4122e" stroke="#c4122e" stroke-width=".4">ПАТРИОТЫ</text><text x="6.5" y="9.7" font-size="4.1" font-weight="bold" textLength="17.5" lengthAdjust="spacingAndGlyphs" fill="#c4122e" stroke="#c4122e" stroke-width=".4">РОССИИ</text><text x="8" y="12.1" font-size="1.8" font-weight="bold" textLength="13.8" lengthAdjust="spacingAndGlyphs" fill="#c4122e">политическая партия</text><path d="M5.5,15.6 Q14,13.2 26,14.6" fill="none" stroke="#f6a23a" stroke-width=".9" opacity=".75"/><path d="M9,14.9 Q16,13.6 24,14.2" fill="none" stroke="#9fc63a" stroke-width=".8" opacity=".85"/></svg>
<svg class="ab" style="left:85.8px;top:509.2px" width="23.4" height="23" viewBox="0 0 24 24"><circle cx="12" cy="12" r="11" fill="none" stroke="#2f7a52" stroke-width="1.7" stroke-dasharray="1.2 .4" opacity=".8"/><circle cx="12" cy="12" r="8.6" fill="none" stroke="#2f7a52" stroke-width=".55" opacity=".75"/><ellipse cx="12" cy="12" rx="4.6" ry="8.6" fill="none" stroke="#2f7a52" stroke-width=".4" opacity=".6"/><path d="M3.4,12H20.6M4.6,8H19.4M4.6,16H19.4" stroke="#2f7a52" stroke-width=".4" opacity=".6"/><path d="M12,3.4 L14.8,8.6 L13.8,8.6 L16.4,12.6 L15,12.6 L17.9,17.4 L13,17.4 L13,21 L14.6,22.3 L9.4,22.3 L11,21 L11,17.4 L6.1,17.4 L9,12.6 L7.6,12.6 L10.2,8.6 L9.2,8.6Z" fill="#12482f"/></svg>
<svg class="ab" style="left:87.4px;top:579.6px" width="22" height="15" viewBox="0 0 22 15"><circle cx="6.5" cy="8.3" r="5.8" fill="none" stroke="#d23a2a" stroke-width=".95"/><path d="M1.4,1.4 C2.6,0.8 3.6,1.6 4.2,3 C4.8,4.4 5.4,5.6 5.9,6.9 C4.4,5.8 2.4,4.2 1.4,1.4Z" fill="#14994a"/><text x="5.7" y="14.1" font-size="5" font-weight="bold" font-style="italic" textLength="15.6" lengthAdjust="spacingAndGlyphs" fill="#2a2870">Яблоко</text></svg>
<svg class="ab" style="left:59.8px;top:1131px" width="21.6" height="26.4" viewBox="0 0 25 31"><path d="M3,4.6 Q8,-0.8 13,3.2 M13.5,3.7 Q19,0.2 23.3,5.6" fill="none" stroke="#a9c2e2" stroke-width="2.5"/><path d="M3.2,5 Q8,0 12.9,3.7 M13.6,4.2 Q19,1 23,6" fill="none" stroke="#f2f6fb" stroke-width="1.7"/><path d="M1.6,8.6 Q6,3.6 12.6,4.8 M12.8,6.2 Q19,3.6 23.1,8.2 Q24.5,10.6 23.7,13.4" fill="none" stroke="#2d6cc0" stroke-width="2.5"/><path d="M0.5,11.6 Q5,7 11.6,7.6 M10.4,9.7 Q18,7.2 21.5,11.4 Q23,15 20.6,19" fill="none" stroke="#da2a1e" stroke-width="2.6"/><g transform="translate(0,.7)"><path d="M2.9,16.4 Q3.2,13.2 7,12.6 Q12,11.2 16.4,12.5 Q19.8,13.6 20.2,16.4" fill="none" stroke="#1b347f" stroke-width="1.15"/><path d="M3.6,21 L5.4,15.2 L8.2,21 L10,15.2 M12,21 L13.8,15.2 L16.4,21 L18.2,15.2 M17.2,18 L19.8,21" fill="none" stroke="#1b347f" stroke-width="1.8" stroke-linejoin="miter"/></g><text x="1.9" y="26.4" font-size="4.2" font-weight="bold" textLength="19.7" lengthAdjust="spacingAndGlyphs" fill="#1b347f" stroke="#1b347f" stroke-width=".22">ЕДИНАЯ</text><text x="1.9" y="30.8" font-size="4.2" font-weight="bold" textLength="19.7" lengthAdjust="spacingAndGlyphs" fill="#1b347f" stroke="#1b347f" stroke-width=".22">РОССИЯ</text></svg><div class="ab" style="left:82.9px;top:1157.1px;width:6px;height:1px;background:#7fbf9a;opacity:.7"></div>
<svg class="ab" style="left:95.3px;top:1148px" width="27.4" height="29.6" viewBox="0 0 28 30"><circle cx="14" cy="12.4" r="12.6" fill="none" stroke="#c93a3a" stroke-width=".95" stroke-dasharray="1.2 .45" opacity=".7"/><path d="M16.8,5.3 C21,7 23.4,11 22.2,14.6 C21,18.4 17.4,20 14.4,19.2 C12.6,18.6 11.6,17 10.4,16.4 C9.2,17.2 8.4,18 7.4,18.8" fill="none" stroke="#c4161c" stroke-width="1.05" stroke-linecap="round"/><path d="M20.6,9 C22,12 21.8,15.4 19.4,17.6" fill="none" stroke="#c4161c" stroke-width="1.5" stroke-linecap="round" opacity=".8"/><circle cx="7.6" cy="18.7" r="1.1" fill="#c4161c"/><path d="M10.6,8.4 L21.4,19.4" stroke="#c4161c" stroke-width="1.2" stroke-linecap="round"/><path d="M7,10.4 Q8.4,6.8 12.2,5.8 L13.4,7.6 Q10.4,8.6 8.6,11.4Z" fill="#c4161c"/><text x="0.9" y="30" font-size="9.9" font-weight="bold" textLength="26.8" lengthAdjust="spacingAndGlyphs" fill="#c4161c" stroke="#c4161c" stroke-width=".35">КПРФ</text></svg>
<svg class="ab" style="left:135.8px;top:1185.8px" width="22.2" height="25.2" viewBox="0 0 27.6 31"><path d="M4.3,0.7 L23.3,0.7 L26.1,4.1 L25.7,17.4 Q24.8,22.6 20.6,25.6 L13.8,28 L7,25.6 Q2.8,22.6 1.9,17.4 L1.5,4.1Z" fill="#1f78be" stroke="#f2c615" stroke-width="1.25" stroke-linejoin="round"/><path d="M5,9.5 L22.6,9.5 L22,17 Q20,22 13.8,24.6 Q7.6,22 5.6,17Z" fill="#2b8bcf" opacity=".5"/><ellipse cx="13.4" cy="13.2" rx="3.8" ry="3.4" fill="#9cc56a" opacity=".4"/><text x="5.3" y="7.9" font-size="7.8" font-weight="bold" textLength="16" lengthAdjust="spacingAndGlyphs" fill="#f6e072" stroke="#f6e072" stroke-width=".35">ЛДПР</text><path d="M16.5,19.4 L21,13.6 L21.8,17.8 L18.2,21.8Z M5.6,17.2 L8.6,15.6 L10.4,20 L7.6,21Z M16.6,22.6 L20.6,20.2 L19.8,23.6 Z M6.4,22 L10,21.4 L9,24Z" fill="#e6c31c"/><path d="M6.2,8.6 L9.8,10 L12.8,14.2 L14.6,17.2 L16,13 L18.8,9 L21.6,6.8 L21.2,11 L19.2,16.4 L16.6,21.2 L14.2,24.6 L11.6,26.2 L11,23.6 L12.2,21.6 L8.8,18.2 L6.6,13.4Z" fill="#55575a"/><path d="M14.6,17.2 L16,13 L18.8,9 L21.6,6.8 L18.4,14 L15.8,19.6Z" fill="#6d6f73"/><path d="M6.2,8.6 L9.8,10 L12.8,14.2 L12,16 L8.4,12.6Z" fill="#47494c"/><path d="M0.4,27.2 Q0.6,24.6 2.8,25 Q4.4,25.4 5,26.8 Q9.4,29 13.8,28 Q18.2,29 22.6,26.8 Q23.2,25.4 24.8,25 Q27,24.6 27.2,27.2 Q27.2,29 25.6,30 Q19,31.8 13.8,30.6 Q8.6,31.8 2,30 Q0.4,29 0.4,27.2Z" fill="#f2c615"/><path d="M4.6,28.9 Q9,30.3 13.8,29.4 Q18.6,30.3 23,28.9" fill="none" stroke="#2f7a5a" stroke-width=".6" opacity=".8"/></svg>
<svg class="ab" style="left:170px;top:1252.2px" width="30.5" height="14.8" viewBox="0 -4 31 15"><text x="0.6" y="3.1" font-size="4.5" textLength="15.7" lengthAdjust="spacingAndGlyphs" fill="#333" stroke="#333" stroke-width=".15">ПРАВОЕ</text><text x="5" y="8.2" font-size="4.5" textLength="12.2" lengthAdjust="spacingAndGlyphs" fill="#333" stroke="#333" stroke-width=".15">ДЕЛО</text><path d="M21.9,-3.3 L30.3,3 L27.4,5.2 L20.8,0Z" fill="#eeb422"/><path d="M30.3,3 L22.2,10.8 L20.8,8.7 L27.7,2.7Z" fill="#2d2b2b"/><path d="M28.6,3.6 L21.7,9.8" stroke="#e8e4dc" stroke-width=".55"/><path d="M30.3,3 L29.2,4.1 L27.7,2.7 L28.6,1.7Z" fill="#eeb422"/></svg>
<svg class="ab" style="left:208.1px;top:1247.3px" width="30.3" height="16" viewBox="0 0 30 16"><rect width="30" height="16" fill="#fbd92b"/><text x="2.8" y="5.7" font-size="4" font-weight="bold" textLength="24.6" lengthAdjust="spacingAndGlyphs" fill="#c4122e" stroke="#c4122e" stroke-width=".4">ПАТРИОТЫ</text><text x="6.5" y="9.7" font-size="4.1" font-weight="bold" textLength="17.5" lengthAdjust="spacingAndGlyphs" fill="#c4122e" stroke="#c4122e" stroke-width=".4">РОССИИ</text><text x="8" y="12.1" font-size="1.8" font-weight="bold" textLength="13.8" lengthAdjust="spacingAndGlyphs" fill="#c4122e">политическая партия</text><path d="M5.5,15.6 Q14,13.2 26,14.6" fill="none" stroke="#f6a23a" stroke-width=".9" opacity=".75"/><path d="M9,14.9 Q16,13.6 24,14.2" fill="none" stroke="#9fc63a" stroke-width=".8" opacity=".85"/></svg>
<svg class="ab" style="left:252px;top:1163px" width="17.5" height="22.3" viewBox="0 0 18 22"><text x="1.5" y="13.3" font-size="14.8" font-weight="bold" textLength="12.9" lengthAdjust="spacingAndGlyphs" fill="#8c1219" stroke="#8c1219" stroke-width=".7">СР</text><path d="M14.3,0 L15.2,0 L17.9,7.8 L15.4,16 L14,16 L16.2,7.8Z" fill="#8c1219"/><path d="M1.5,15 L15.4,15 L14.5,21.6 L0,21.6Z" fill="#8c1219"/><text x="2.4" y="17.8" font-size="2" font-weight="bold" textLength="11.4" lengthAdjust="spacingAndGlyphs" fill="#fbeaea">СПРАВЕДЛИВАЯ</text><text x="1.8" y="20.6" font-size="2" font-weight="bold" textLength="11.4" lengthAdjust="spacingAndGlyphs" fill="#fbeaea">РОССИЯ</text></svg>
<svg class="ab" style="left:287.9px;top:1236.9px" width="22" height="15" viewBox="0 0 22 15"><circle cx="6.5" cy="8.3" r="5.8" fill="none" stroke="#d23a2a" stroke-width=".95"/><path d="M1.4,1.4 C2.6,0.8 3.6,1.6 4.2,3 C4.8,4.4 5.4,5.6 5.9,6.9 C4.4,5.8 2.4,4.2 1.4,1.4Z" fill="#14994a"/><text x="5.7" y="14.1" font-size="5" font-weight="bold" font-style="italic" textLength="15.6" lengthAdjust="spacingAndGlyphs" fill="#2a2870">Яблоко</text></svg>
<svg class="ab" style="left:360.5px;top:1042px" width="49" height="49" viewBox="0 0 49 49"><clipPath id="c1"><rect width="49" height="49"/></clipPath><filter id="f1" x="-20%" y="-20%" width="140%" height="140%"><feGaussianBlur stdDeviation="0.85"/></filter><radialGradient id="sk1" cx=".52" cy=".42" r=".62"><stop offset="0" stop-color="#e6b79b"/><stop offset=".6" stop-color="#e6b79b"/><stop offset="1" stop-color="#bb8262"/></radialGradient><g clip-path="url(#c1)"><g filter="url(#f1)"><g transform="translate(24.5 30) scale(1.08) translate(-24.5 -30)"><rect x="-8" y="-8" width="65" height="65" fill="#7a3a22"/><rect x="-5" y="-5" width="11" height="59" fill="#4a2014"/><rect x="32" y="-5" width="22" height="48" fill="#4a2012"/><path d="M34,9H50M34,17H50M34,35H50" stroke="#2a0f08" stroke-width="3.4"/><path d="M40,2V8M44,2V8M47,10V16M41,10V16" stroke="#8a5030" stroke-width="1.4"/><path d="M47.5,7 L38.6,33" stroke="#a85c30" stroke-width="3"/><path d="M-5,54 L-5,34 L4,33 L14,40 L24,50 L36,36.5 L54,42 L54,54Z" fill="#1f1818"/><path d="M13.6,42 L20,48 L26,54 L32,54 L36.6,38 L35,36Z" fill="#f4f2f0"/><ellipse cx="5.6" cy="23.5" rx="2.2" ry="4.2" fill="#b97c5c"/><ellipse cx="39.4" cy="21" rx="2" ry="4.4" fill="#c98c6a"/><ellipse cx="23" cy="24" rx="16.6" ry="21.4" fill="url(#sk1)"/><path d="M7,19 Q8,3 22,1.4 Q36,1 39,17 Q34,6.4 22,6.4 Q11,7 7,19Z" fill="#9a6848"/><path d="M10,9 Q22,2.6 35,8 Q22,4.6 10,9Z" fill="#c09070"/><ellipse cx="9.6" cy="30" rx="3" ry="10" fill="#a06c50" opacity=".75" transform="rotate(-12 9.6 30)"/><path d="M11.6,18.6 L19,18.2 M25,17.8 L32,18" stroke="#8a6048" stroke-width="1"/><ellipse cx="15.8" cy="20.6" rx="2.5" ry="1.2" fill="#3c3438"/><ellipse cx="28.3" cy="20.1" rx="2.5" ry="1.2" fill="#3c3438"/><path d="M16.6,34 Q22,32.8 28.6,33.8" stroke="#a4604c" stroke-width="1.5" fill="none"/><path d="M20.6,22 L19.4,28.6 L24.4,28.8" stroke="#b98462" stroke-width="1.3" fill="none"/><path d="M14,38 Q22,41 31,37.4" stroke="#c08c6c" stroke-width="1.2" fill="none"/></g></g></g></svg>
<svg class="ab" style="left:504.7px;top:1041.7px" width="49" height="49" viewBox="0 0 49 49"><clipPath id="c2"><rect width="49" height="49"/></clipPath><filter id="f2" x="-20%" y="-20%" width="140%" height="140%"><feGaussianBlur stdDeviation="0.85"/></filter><radialGradient id="sk2" cx=".52" cy=".42" r=".62"><stop offset="0" stop-color="#e4a88a"/><stop offset=".6" stop-color="#e4a88a"/><stop offset="1" stop-color="#c68162"/></radialGradient><g clip-path="url(#c2)"><g filter="url(#f2)"><g transform="translate(24.5 30) scale(1.06) translate(-24.5 -30)"><rect x="-8" y="-8" width="65" height="65" fill="#cfd0d3"/><path d="M30,54 L35,36.6 L49,47 L54,52 L54,54Z" fill="#1e2426"/><path d="M9,54 L12,42 L34.6,37 L31,54Z" fill="#bfe3e2"/><path d="M20,54 L21,50 L25,50 L26,54Z" fill="#8a8a7a"/><path d="M-3,54 L-2,44 L5,39.6 L11,43 L9.6,54Z" fill="#34443a"/><ellipse cx="5" cy="43.6" rx="4.4" ry="3.2" fill="#93a396"/><ellipse cx="3.4" cy="22" rx="1.6" ry="4" fill="#c88a68"/><ellipse cx="36.2" cy="20" rx="1.4" ry="4.4" fill="#c88a68"/><ellipse cx="20" cy="23" rx="16.4" ry="21.4" fill="url(#sk2)"/><path d="M2.6,22 Q1.6,4 13,-1 L31,-1 Q37,4 36.8,18 Q32,1.6 18,1.2 Q5.6,4 2.6,22Z" fill="#2e2220"/><path d="M8.6,15.8 L16,16.6 M23,16.2 L31,14.8" stroke="#7a4434" stroke-width="1.2"/><ellipse cx="13" cy="19.6" rx="2.6" ry="1.3" fill="#3e2a2a"/><ellipse cx="26.2" cy="19" rx="2.6" ry="1.3" fill="#3e2a2a"/><path d="M16.6,33 Q21,31.6 26,32.8" stroke="#a8604e" stroke-width="1.9" fill="none"/><path d="M19,21 L17.6,27 L23,27.6" stroke="#bb7654" stroke-width="1.6" fill="none"/><ellipse cx="32.6" cy="28" rx="2.6" ry="10" fill="#b87658" opacity=".7"/></g></g></g></svg>
<svg class="ab" style="left:360.5px;top:1134.7px" width="49" height="49" viewBox="0 0 49 49"><clipPath id="c3"><rect width="49" height="49"/></clipPath><filter id="f3" x="-20%" y="-20%" width="140%" height="140%"><feGaussianBlur stdDeviation="0.85"/></filter><radialGradient id="sk3" cx=".52" cy=".42" r=".62"><stop offset="0" stop-color="#dcb29b"/><stop offset=".6" stop-color="#dcb29b"/><stop offset="1" stop-color="#b4876f"/></radialGradient><g clip-path="url(#c3)"><g filter="url(#f3)"><g transform="translate(24.5 30) scale(1.08) translate(-24.5 -30)"><rect x="-8" y="-8" width="65" height="65" fill="#efedeb"/><path d="M-5,54 L-3,41 L16,33 L38,33.4 L54,41 L54,54Z" fill="#75767a"/><path d="M4,54 L12,40 M44,54 L40,40" stroke="#5c5d62" stroke-width="1.6"/><path d="M17,41 L22,54 L34,54 L37,37.4Z" fill="#efe8e6"/><path d="M24.4,46.4 L29.6,46.4 L31,54 L23,54Z" fill="#7c1c28"/><path d="M20,30 L36,30 L36,41 L24,44Z" fill="#b88c76"/><ellipse cx="36.4" cy="25.6" rx="2.8" ry="5" fill="#c4937a"/><ellipse cx="24" cy="24" rx="13" ry="18" fill="url(#sk3)"/><path d="M10,15 Q8.6,2 22,0 Q36,-1 38,10 Q40,18 36,24 Q35.4,12 28,8.4 Q18,6 11.6,16Z" fill="#3e3a38"/><path d="M30,9 Q37,12 36.4,22 Q38.6,15 35,8Z" fill="#6a6662"/><path d="M10.6,16.6 L17,16.8 M21,17.2 L28,17.4" stroke="#3e302c" stroke-width="1.2"/><ellipse cx="14" cy="18.8" rx="2.8" ry="1.1" fill="#33282a"/><ellipse cx="24.2" cy="19.2" rx="2.8" ry="1.1" fill="#33282a"/><path d="M15.6,33 Q19,32 23,33.4" stroke="#84443e" stroke-width="1.7" fill="none"/><path d="M17,20 L14.6,27 L19,28" stroke="#b08268" stroke-width="1.5" fill="none"/><ellipse cx="31" cy="30" rx="3" ry="8" fill="#bf927a" opacity=".7"/></g></g></g></svg>
<svg class="ab" style="left:504.7px;top:1134.7px" width="49" height="49" viewBox="0 0 49 49"><clipPath id="c4"><rect width="49" height="49"/></clipPath><filter id="f4" x="-20%" y="-20%" width="140%" height="140%"><feGaussianBlur stdDeviation="0.85"/></filter><radialGradient id="sk4" cx=".52" cy=".42" r=".62"><stop offset="0" stop-color="#e3b496"/><stop offset=".6" stop-color="#e3b496"/><stop offset="1" stop-color="#bf896b"/></radialGradient><g clip-path="url(#c4)"><g filter="url(#f4)"><g transform="translate(24.5 30) scale(1.08) translate(-24.5 -30)"><rect x="-8" y="-8" width="65" height="65" fill="#f6f6f6"/><path d="M-5,54 L-5,30.6 L8,28 L20,54Z" fill="#19191d"/><path d="M32,54 L38.4,29 L54,34 L54,54Z" fill="#19191d"/><path d="M16,42 L20,54 L34,54 L40,30Z" fill="#f4f4f6"/><path d="M19,45 L27,47 L30,54 L21,54Z" fill="#7a72c2"/><path d="M21,47 L27,52" stroke="#c8c0ee" stroke-width="1"/><ellipse cx="37.4" cy="25.6" rx="3" ry="5.2" fill="#cc967a"/><ellipse cx="24" cy="25" rx="15" ry="19" fill="url(#sk4)"/><path d="M9,15 Q10,1 24,0 Q40,0 41,14 Q42,22 38,26 Q37,12 30,9 Q18,6 10,17Z" fill="#5e4c44"/><path d="M33,7 Q41.6,11 40.4,23 Q38.4,14 32,10.4Z" fill="#a09a9a"/><path d="M8,18 L14.6,17 M18.6,17.6 L26,19" stroke="#4a3430" stroke-width="1.2"/><ellipse cx="11.6" cy="20" rx="2.6" ry="1.2" fill="#43333a"/><ellipse cx="22" cy="20.8" rx="2.8" ry="1.2" fill="#43333a"/><ellipse cx="17.6" cy="32.8" rx="4.2" ry="1.9" fill="#7e878e"/><path d="M13,31 Q18,29.2 23,31.4" stroke="#a86654" stroke-width="1.2" fill="none"/><path d="M15,22 L12,28 L16,29" stroke="#ba866a" stroke-width="1.5" fill="none"/><ellipse cx="32" cy="32" rx="3" ry="8" fill="#c48e72" opacity=".7"/></g></g></g></svg>
<svg class="ab" style="left:360.5px;top:1227.7px" width="49" height="49" viewBox="0 0 49 49"><clipPath id="c5"><rect width="49" height="49"/></clipPath><filter id="f5" x="-20%" y="-20%" width="140%" height="140%"><feGaussianBlur stdDeviation="0.85"/></filter><radialGradient id="sk5" cx=".52" cy=".42" r=".62"><stop offset="0" stop-color="#d8a88a"/><stop offset=".6" stop-color="#d8a88a"/><stop offset="1" stop-color="#b38266"/></radialGradient><g clip-path="url(#c5)"><g filter="url(#f5)"><g transform="translate(24.5 30) scale(1.1) translate(-24.5 -30)"><rect x="-8" y="-8" width="65" height="65" fill="#8c8b84"/><rect x="-5" y="-5" width="59" height="13" fill="#73726a"/><path d="M-5,12 L20,6 L54,10 L54,14 L20,10 L-5,16Z" fill="#a5a399"/><rect x="36" y="8" width="18" height="30" fill="#9a968e"/><rect x="-5" y="23" width="22" height="24" fill="#2d6d4b"/><rect x="-5" y="33" width="20" height="3" fill="#6f9072"/><rect x="-5" y="45.6" width="18" height="9" fill="#90603e"/><rect x="38" y="36" width="16" height="10" fill="#3a7052"/><path d="M36,54 L42,38 L54,46 L54,54Z" fill="#1a2140"/><path d="M14,54 L18,44 L42,38 L38,54Z" fill="#f0f0f0"/><ellipse cx="42.2" cy="27" rx="2.6" ry="5" fill="#bb866a"/><ellipse cx="26" cy="26" rx="16" ry="20" fill="url(#sk5)"/><path d="M8,21 Q7.6,3 24,1 Q42,1 44,18 Q44,22 42,24 Q40,10 30,8 Q16,7 10,23Z" fill="#bdb7ac"/><path d="M12,6 Q24,-1 38,6 Q24,3 12,9Z" fill="#d6d1c8"/><path d="M12,30 Q14,44 26,46.4 Q36,44 38.4,34 Q32,42 24,41 Q16,40 12,30Z" fill="#d2c2b4"/><path d="M14.6,32.4 Q21,27.6 29.4,31 L28,33.4 Q21,31.2 16,34.4Z" fill="#ded8ce"/><path d="M10.6,18.4 L18,18.6 M23,17.4 L31,16.6" stroke="#8a7466" stroke-width="1.2"/><ellipse cx="15" cy="21" rx="2.8" ry="1.3" fill="#3d3436"/><ellipse cx="27.2" cy="19.6" rx="2.8" ry="1.3" fill="#3d3436"/><path d="M20,22 L18,28 L23,29" stroke="#a87458" stroke-width="1.5" fill="none"/><path d="M18,35.6 Q22,34.8 26,35.6" stroke="#8a5244" stroke-width="1.1" fill="none"/></g></g></g></svg>
</div></body></html>
